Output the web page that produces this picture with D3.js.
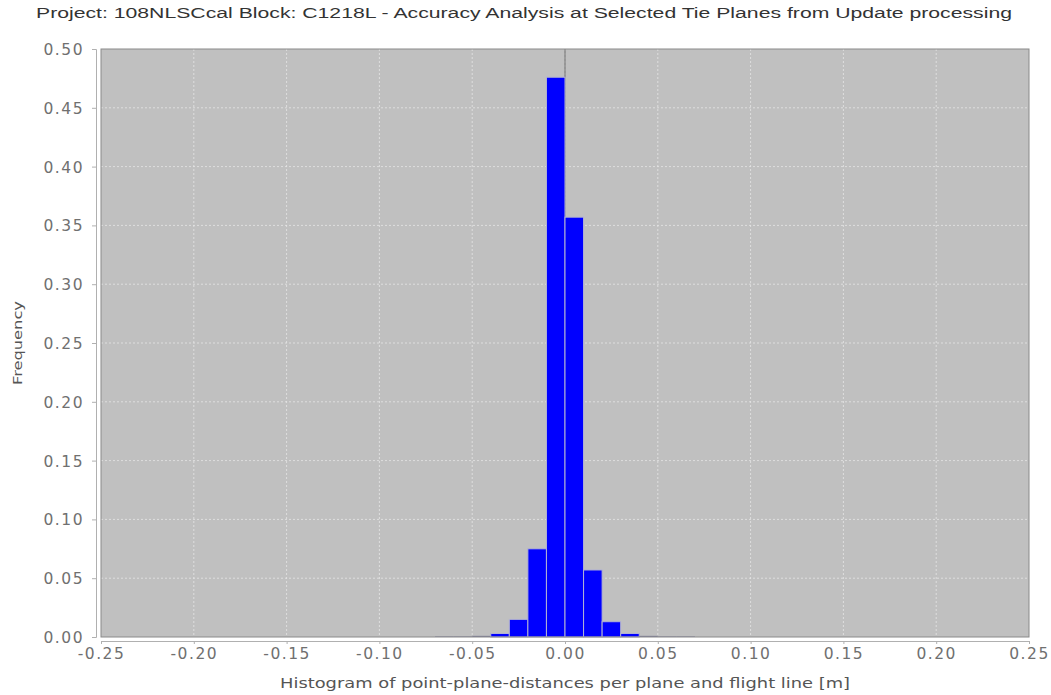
<!DOCTYPE html>
<html>
<head>
<meta charset="utf-8">
<script src="https://cdn.jsdelivr.net/npm/d3@7"></script>
<style>
  html, body { margin: 0; padding: 0; background: #fff; }
  svg { display: block; }
</style>
</head>
<body>
<div id="chart"></div>
<script>
// Histogram bins (left edge, metres) and relative frequency per bin.
const binStarts = [-0.07, -0.06, -0.05, -0.04, -0.03, -0.02, -0.01, 0.00, 0.01, 0.02, 0.03, 0.04, 0.05, 0.06];
const frequencies = [0.0005, 0.0005, 0.001, 0.003, 0.015, 0.075, 0.476, 0.357, 0.057, 0.013, 0.003, 0.001, 0.0005, 0.0005];
const binWidth = 0.01;

const xTicks = [-0.25, -0.20, -0.15, -0.10, -0.05, 0.00, 0.05, 0.10, 0.15, 0.20, 0.25];
const yTicks = [0.00, 0.05, 0.10, 0.15, 0.20, 0.25, 0.30, 0.35, 0.40, 0.45, 0.50];

const titleText = "Project: 108NLSCcal Block: C1218L - Accuracy Analysis at Selected Tie Planes from Update processing";
const xLabel = "Histogram of point-plane-distances per plane and flight line [m]";
const yLabel = "Frequency";

const width = 1051;
const height = 695;
const plot = { left: 101, right: 1029, top: 49, bottom: 637 };

const svg = d3.select("#chart").append("svg")
  .attr("width", width).attr("height", height)
  .attr("viewBox", [0, 0, width, height]);

svg.append("rect").attr("width", width).attr("height", height).attr("fill", "#fff");

const x = d3.scaleLinear().domain([-0.25, 0.25]).range([plot.left, plot.right]);
const y = d3.scaleLinear().domain([0, 0.5]).range([plot.bottom, plot.top]);

// Plot background.
svg.append("rect")
  .attr("x", plot.left).attr("y", plot.top)
  .attr("width", plot.right - plot.left).attr("height", plot.bottom - plot.top)
  .attr("fill", "#c0c0c0");

// Grid lines.
svg.append("g")
  .selectAll("line").data(xTicks.slice(1, -1)).join("line")
  .attr("x1", d => x(d)).attr("x2", d => x(d))
  .attr("y1", plot.top).attr("y2", plot.bottom)
  .attr("stroke", "#e6e6e6").attr("stroke-width", 0.8).attr("stroke-dasharray", "2,2");

svg.append("g")
  .selectAll("line").data(yTicks.slice(1, -1)).join("line")
  .attr("x1", plot.left).attr("x2", plot.right)
  .attr("y1", d => y(d)).attr("y2", d => y(d))
  .attr("stroke", "#e6e6e6").attr("stroke-width", 0.8).attr("stroke-dasharray", "2,2");

// Zero marker.
svg.append("line")
  .attr("x1", x(0)).attr("x2", x(0))
  .attr("y1", plot.top).attr("y2", plot.bottom)
  .attr("stroke", "#7a7a7a").attr("stroke-width", 1.2);

// Bars.
svg.append("g")
  .selectAll("rect").data(binStarts).join("rect")
  .attr("x", d => x(d))
  .attr("width", d => x(d + binWidth) - x(d))
  .attr("y", (d, i) => y(frequencies[i]))
  .attr("height", (d, i) => y(0) - y(frequencies[i]))
  .attr("fill", (d, i) => frequencies[i] < 0.002 ? "#7f7f9a" : "#0000ff")
  .attr("stroke", (d, i) => frequencies[i] < 0.002 ? "none" : "#b4b4d2")
  .attr("stroke-width", 1);

// Plot border.
svg.append("rect")
  .attr("x", plot.left).attr("y", plot.top)
  .attr("width", plot.right - plot.left).attr("height", plot.bottom - plot.top)
  .attr("fill", "none").attr("stroke", "#8a8a8a").attr("stroke-width", 1);

// Axes.
const fmt = d => d.toFixed(2);

const xAxis = svg.append("g")
  .attr("transform", `translate(0,${plot.bottom + 4})`)
  .call(d3.axisBottom(x).tickValues(xTicks).tickFormat(fmt).tickSizeOuter(0).tickSize(3).tickPadding(4));

const yAxis = svg.append("g")
  .attr("transform", `translate(${plot.left - 5},0)`)
  .call(d3.axisLeft(y).tickValues(yTicks).tickFormat(fmt).tickSizeOuter(0).tickSize(4).tickPadding(8));

for (const a of [xAxis, yAxis]) {
  a.select(".domain").attr("stroke", "#b0b0b0");
  a.selectAll(".tick line").attr("stroke", "#b0b0b0");
  a.selectAll(".tick text")
    .attr("fill", "#707070")
    .attr("font-family", "DejaVu Sans, sans-serif")
    .attr("font-size", "15.5px")
    .attr("letter-spacing", "1.5px");
}
yAxis.selectAll(".tick text").attr("dy", "0.36em");

// Title and axis labels.
svg.append("text")
  .attr("x", 524).attr("y", 18)
  .attr("text-anchor", "middle")
  .attr("font-family", "Liberation Sans, Arial, sans-serif")
  .attr("font-size", "14px")
  .attr("fill", "#333")
  .attr("textLength", 976).attr("lengthAdjust", "spacingAndGlyphs")
  .text(titleText);

svg.append("text")
  .attr("x", x(0)).attr("y", 688)
  .attr("text-anchor", "middle")
  .attr("font-family", "DejaVu Sans, sans-serif")
  .attr("font-size", "14px")
  .attr("fill", "#555")
  .attr("textLength", 570).attr("lengthAdjust", "spacingAndGlyphs")
  .text(xLabel);

svg.append("text")
  .attr("transform", `translate(22,${(plot.top + plot.bottom) / 2}) rotate(-90)`)
  .attr("text-anchor", "middle")
  .attr("font-family", "DejaVu Sans, sans-serif")
  .attr("font-size", "13px")
  .attr("fill", "#555")
  .attr("textLength", 84).attr("lengthAdjust", "spacingAndGlyphs")
  .text(yLabel);
</script>
</body>
</html>
